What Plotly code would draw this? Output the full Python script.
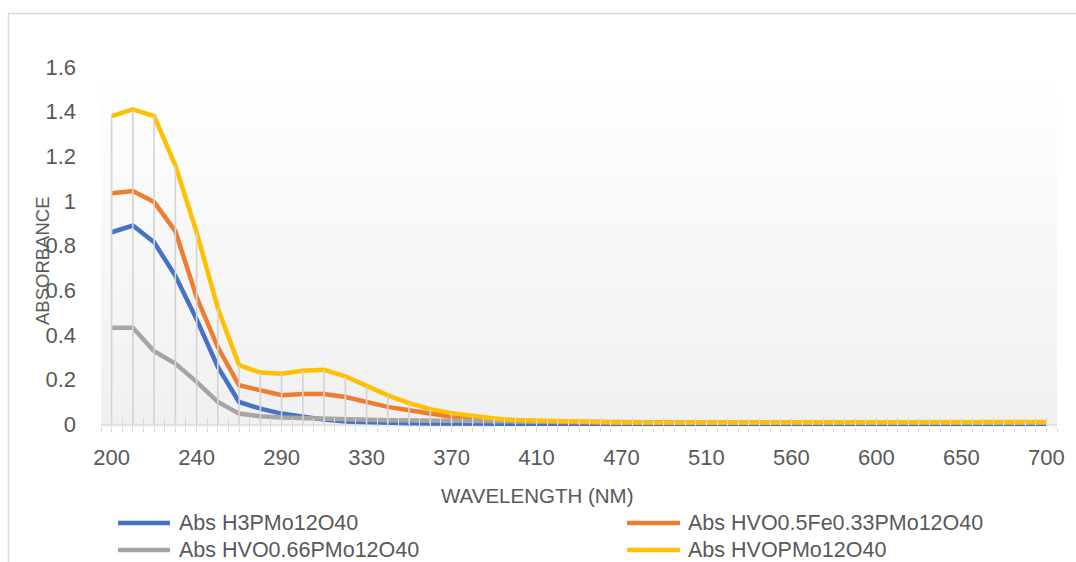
import plotly.graph_objects as go

# ---------------- data ----------------
tick_labels = ["200", "240", "290", "330", "370", "410", "470", "510", "560", "600", "650", "700"]
label_every = 4  # one labelled category every 4 categories

series_names = ["Abs H3PMo12O40", "Abs HVO0.5Fe0.33PMo12O40", "Abs HVO0.66PMo12O40", "Abs HVOPMo12O40"]
series_colors = ["#4472C4", "#ED7D31", "#A5A5A5", "#FFC000"]

abs_h3pmo = [0.86, 0.89, 0.815, 0.665, 0.47, 0.257, 0.1, 0.07, 0.048, 0.033,
             0.021, 0.013, 0.009, 0.006, 0.005, 0.004, 0.003, 0.002, 0.002, 0.002,
             0.002, 0.002, 0.002, 0.002, 0.002, 0.002, 0.002, 0.002, 0.002, 0.002,
             0.002, 0.002, 0.002, 0.002, 0.002, 0.002, 0.002, 0.002, 0.002, 0.002,
             0.002, 0.002, 0.002, 0.002, 0.002]
abs_hvo05fe = [1.035, 1.045, 0.995, 0.865, 0.57, 0.345, 0.175, 0.15, 0.13, 0.136,
               0.136, 0.122, 0.1, 0.078, 0.063, 0.047, 0.034, 0.025, 0.018, 0.014,
               0.011, 0.009, 0.008, 0.007, 0.007, 0.007, 0.007, 0.007, 0.007, 0.007,
               0.007, 0.007, 0.007, 0.007, 0.007, 0.007, 0.007, 0.007, 0.007, 0.007,
               0.007, 0.007, 0.007, 0.007, 0.007]
abs_hvo066 = [0.432, 0.432, 0.327, 0.272, 0.19, 0.1, 0.048, 0.036, 0.031, 0.027,
              0.024, 0.022, 0.02, 0.018, 0.017, 0.016, 0.015, 0.014, 0.013, 0.012,
              0.011, 0.01, 0.008, 0.008, 0.008, 0.008, 0.008, 0.008, 0.008, 0.008,
              0.008, 0.008, 0.007, 0.007, 0.007, 0.007, 0.007, 0.007, 0.007, 0.007,
              0.007, 0.007, 0.007, 0.007, 0.007]
abs_hvopmo = [1.38, 1.41, 1.38, 1.16, 0.86, 0.52, 0.265, 0.232, 0.226, 0.24,
              0.244, 0.215, 0.172, 0.13, 0.095, 0.068, 0.05, 0.036, 0.026, 0.019,
              0.016, 0.012, 0.01, 0.008, 0.008, 0.008, 0.008, 0.008, 0.008, 0.008,
              0.008, 0.008, 0.008, 0.008, 0.008, 0.008, 0.01, 0.01, 0.01, 0.01,
              0.01, 0.01, 0.01, 0.01, 0.01]

all_series = [abs_h3pmo, abs_hvo05fe, abs_hvo066, abs_hvopmo]
n = len(abs_h3pmo)
xi = list(range(n))

FONT = "Liberation Sans"
TXT = "#595959"
AX = "#d9d9d9"

W, H = 1076, 562
ML, MR, MT, MB = 101, 19, 67, 135
pw = W - ML - MR
ph = H - MT - MB


def px(x):
    return (x - ML) / pw


def py(y):
    return (H - MB - y) / ph


fig = go.Figure()

# drop lines (from the highest series value down to zero at every category)
dx, dy = [], []
for i in xi:
    top = max(s[i] for s in all_series)
    dx += [i, i, None]
    dy += [0, top, None]
fig.add_trace(go.Scatter(x=dx, y=dy, mode="lines", xaxis="x2",
                         line=dict(color="#d3d3d3", width=1.6),
                         hoverinfo="skip", showlegend=False))

for name, col, vals in zip(series_names, series_colors, all_series):
    fig.add_trace(go.Scatter(x=xi, y=vals, mode="lines", name=name,
                             line=dict(color=col, width=4.5, shape="linear"),
                             showlegend=False))

# ticks at every category boundary and centre
tpos = [k / 2 - 0.5 for k in range(2 * n + 1)]
ttext = []
for t in tpos:
    if t >= 0 and t == int(t) and int(t) % label_every == 0:
        ttext.append(tick_labels[int(t) // label_every])
    else:
        ttext.append("")

xrange_ = [-0.5, n - 0.5]
shapes = []
# gradient plot-area fill
steps = 60
for k in range(steps):
    f0, f1 = k / steps, (k + 1) / steps
    frac = 1 - (f0 + f1) / 2  # 0 at top, 1 at bottom
    c = int(round(255 - 15 * frac))
    shapes.append(dict(type="rect", xref="x domain", yref="y domain", x0=0, x1=1,
                       y0=f0, y1=f1 + 0.002, fillcolor=f"rgb({c},{c},{c})",
                       line=dict(width=0), layer="below"))
# chart border
shapes.append(dict(type="rect", xref="paper", yref="paper",
                   x0=px(8.5), x1=px(1090), y0=py(575), y1=py(13.5),
                   line=dict(color="#d9d9d9", width=1.5), fillcolor="rgba(0,0,0,0)"))

annotations = [
    dict(text="ABSORBANCE", textangle=-90, xref="paper", yref="paper",
         x=px(42), y=py(261), xanchor="center", yanchor="middle", showarrow=False,
         font=dict(family=FONT, size=18.5, color=TXT)),
    dict(text="WAVELENGTH (NM)", xref="paper", yref="paper",
         x=px(537), y=py(495), xanchor="center", yanchor="middle", showarrow=False,
         font=dict(family=FONT, size=20.5, color=TXT)),
]

# legend (two columns)
leg_rows = [523, 550]
leg_cols = [(118, 170, 177), (627, 680, 686)]
for k, (name, col) in enumerate(zip(series_names, series_colors)):
    r, c = k // 2, k % 2
    x0, x1, xt = leg_cols[c]
    yy = leg_rows[r]
    shapes.append(dict(type="line", xref="paper", yref="paper",
                       x0=px(x0), x1=px(x1), y0=py(yy), y1=py(yy),
                       line=dict(color=col, width=4.5)))
    annotations.append(dict(text=name, xref="paper", yref="paper", x=px(xt), y=py(yy),
                            xanchor="left", yanchor="middle", showarrow=False,
                            font=dict(family=FONT, size=21.5, color=TXT)))

fig.update_layout(
    width=W, height=H,
    margin=dict(l=ML, r=MR, t=MT, b=MB, pad=0),
    paper_bgcolor="white", plot_bgcolor="white",
    showlegend=False,
    font=dict(family=FONT, size=20, color=TXT),
    xaxis=dict(range=xrange_, tickmode="array", tickvals=tpos, ticktext=ttext,
               ticks="outside", ticklen=4, tickcolor=AX, tickwidth=1.3,
               showline=False, showgrid=False, zeroline=False,
               ticklabelstandoff=7, tickfont=dict(family=FONT, size=22, color=TXT)),
    xaxis2=dict(range=xrange_, overlaying="x", anchor="y", side="bottom", matches="x",
                tickmode="array", tickvals=tpos, ticks="inside", ticklen=9,
                tickcolor=AX, tickwidth=1.3, showticklabels=False,
                showline=False, showgrid=False, zeroline=False),
    yaxis=dict(range=[-0.012, 1.6], tickmode="array",
               tickvals=[0, 0.2, 0.4, 0.6, 0.8, 1.0, 1.2, 1.4, 1.6],
               ticktext=["0", "0.2", "0.4", "0.6", "0.8", "1", "1.2", "1.4", "1.6"],
               ticks="", showgrid=False, showline=False,
               zeroline=True, zerolinecolor=AX, zerolinewidth=1.3,
               ticklabelstandoff=24, tickfont=dict(family=FONT, size=22, color=TXT)),
    shapes=shapes,
    annotations=annotations,
)

fig.write_html("out.html")
